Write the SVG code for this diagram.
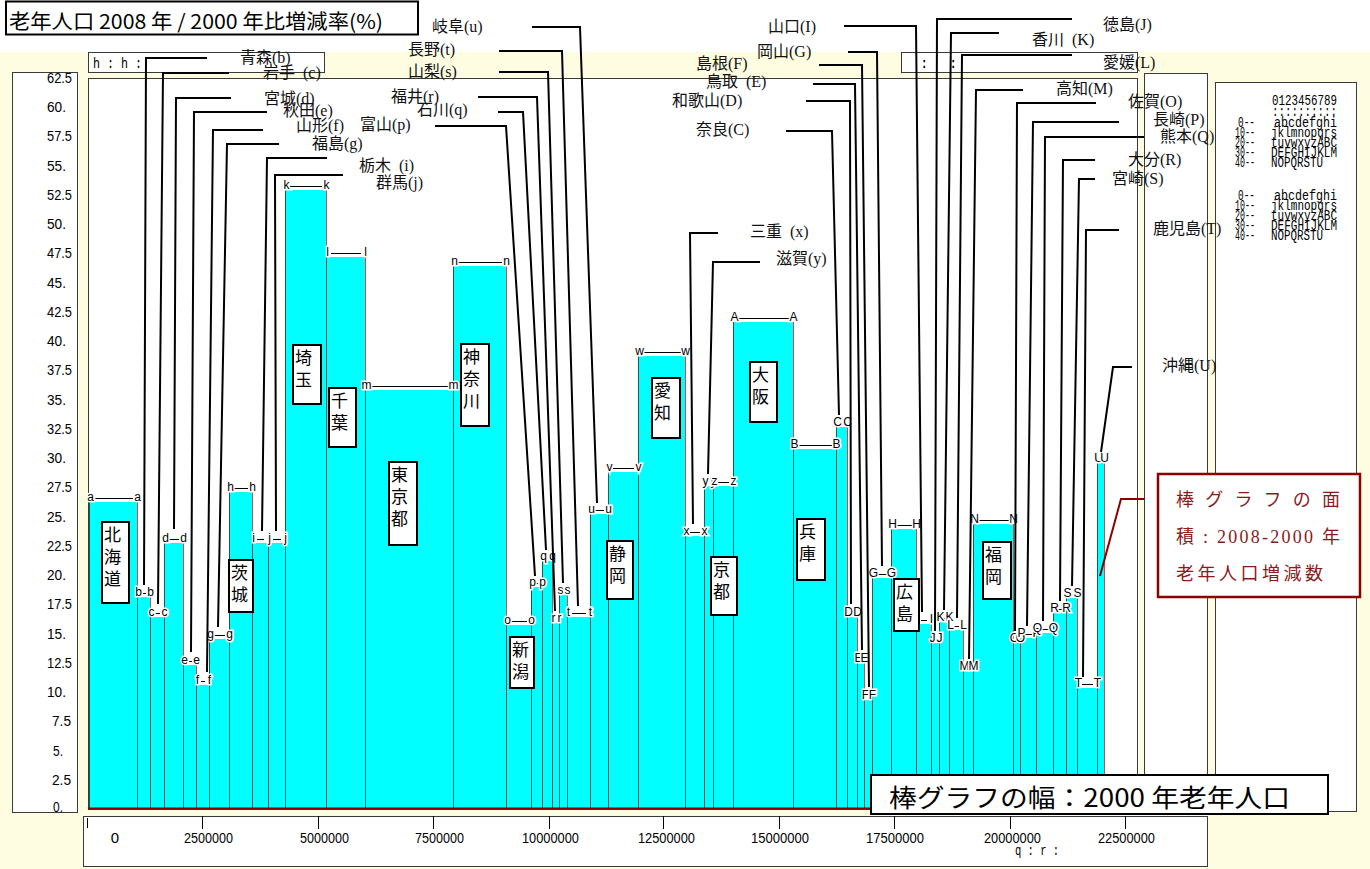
<svg xmlns="http://www.w3.org/2000/svg" width="1370" height="869" viewBox="0 0 1370 869">
<style>
.fr{fill:#fff;stroke:#3a3a3a;stroke-width:1}
.bar{fill:#00ffff}
.lb{font-family:"Liberation Sans",Arial,sans-serif;font-size:12px;fill:#000;stroke:#fff;stroke-width:3px;paint-order:stroke;text-anchor:middle}
.cn{fill:none;stroke:#000;stroke-width:1}
.ld{fill:none;stroke:#000;stroke-width:2}
.pn{font-family:"Liberation Serif","Noto Sans CJK JP",serif;font-size:16px;fill:#111}
.bx{fill:#fff;stroke:#000;stroke-width:2}
.bt{font-family:"Noto Sans CJK JP",sans-serif;font-size:17px;fill:#000}
.ax{font-family:"Liberation Sans",Arial,sans-serif;font-size:14px;fill:#000}
.mn{font-family:"Liberation Mono",monospace;font-size:14px;fill:#000}
</style>
<rect width="1370" height="869" fill="#fff"/>
<rect y="52" width="1370" height="817" fill="#fffde1"/>

<g id="title">
<rect x="6" y="1.5" width="412" height="33" fill="#fff" stroke="#000" stroke-width="2"/>
<text x="9" y="29" font-family="Noto Sans CJK JP,sans-serif" font-size="20" textLength="374" lengthAdjust="spacingAndGlyphs">老年人口 2008 年 / 2000 年比増減率(%)</text>
</g>

<g id="frames">
<rect class="fr" x="12.5" y="72.5" width="65" height="740"/>
<rect class="fr" x="88.5" y="78.5" width="1049" height="731"/>
<rect class="fr" x="88.5" y="52.5" width="236" height="20"/>
<rect class="fr" x="901.5" y="52.5" width="236" height="20"/>
<rect class="fr" x="83.5" y="816.5" width="1124" height="50"/>
<rect class="fr" x="1215.5" y="82.5" width="141" height="729"/>
<text class="mn" x="93" y="68" textLength="49" lengthAdjust="spacingAndGlyphs" xml:space="preserve">h : h :</text>
<text class="mn" x="920" y="68">:</text>
<text class="mn" x="949" y="68">:</text>
</g>

<g id="y-axis" class="ax">
<text x="47" y="83" textLength="25" lengthAdjust="spacingAndGlyphs">62.5</text>
<text x="47" y="112" textLength="19" lengthAdjust="spacingAndGlyphs">60.</text>
<text x="47" y="141" textLength="25" lengthAdjust="spacingAndGlyphs">57.5</text>
<text x="47" y="171" textLength="19" lengthAdjust="spacingAndGlyphs">55.</text>
<text x="47" y="200" textLength="25" lengthAdjust="spacingAndGlyphs">52.5</text>
<text x="47" y="229" textLength="19" lengthAdjust="spacingAndGlyphs">50.</text>
<text x="47" y="258" textLength="25" lengthAdjust="spacingAndGlyphs">47.5</text>
<text x="47" y="288" textLength="19" lengthAdjust="spacingAndGlyphs">45.</text>
<text x="47" y="317" textLength="25" lengthAdjust="spacingAndGlyphs">42.5</text>
<text x="47" y="346" textLength="19" lengthAdjust="spacingAndGlyphs">40.</text>
<text x="47" y="375" textLength="25" lengthAdjust="spacingAndGlyphs">37.5</text>
<text x="47" y="405" textLength="19" lengthAdjust="spacingAndGlyphs">35.</text>
<text x="47" y="434" textLength="25" lengthAdjust="spacingAndGlyphs">32.5</text>
<text x="47" y="463" textLength="19" lengthAdjust="spacingAndGlyphs">30.</text>
<text x="47" y="492" textLength="25" lengthAdjust="spacingAndGlyphs">27.5</text>
<text x="47" y="522" textLength="19" lengthAdjust="spacingAndGlyphs">25.</text>
<text x="47" y="551" textLength="25" lengthAdjust="spacingAndGlyphs">22.5</text>
<text x="47" y="580" textLength="19" lengthAdjust="spacingAndGlyphs">20.</text>
<text x="47" y="609" textLength="25" lengthAdjust="spacingAndGlyphs">17.5</text>
<text x="47" y="639" textLength="19" lengthAdjust="spacingAndGlyphs">15.</text>
<text x="47" y="668" textLength="25" lengthAdjust="spacingAndGlyphs">12.5</text>
<text x="47" y="697" textLength="19" lengthAdjust="spacingAndGlyphs">10.</text>
<text x="52" y="726" textLength="19" lengthAdjust="spacingAndGlyphs">7.5</text>
<text x="53" y="756" textLength="10" lengthAdjust="spacingAndGlyphs">5.</text>
<text x="52" y="785" textLength="19" lengthAdjust="spacingAndGlyphs">2.5</text>
<text x="53" y="812" textLength="10" lengthAdjust="spacingAndGlyphs">0.</text>
</g>

<g id="x-axis" class="ax">
<path d="M87.5 818V828M202.5 816V829M318.5 816V829M433.5 816V829M549.5 816V829M663.5 816V829M779.5 816V829M894.5 816V829M1010.5 816V829M1125.5 816V829" stroke="#000" stroke-width="1"/>
<text x="115" y="843" text-anchor="middle" font-size="15">0</text>
<text x="184" y="843" font-size="15" textLength="49" lengthAdjust="spacingAndGlyphs">2500000</text>
<text x="300" y="843" font-size="15" textLength="49" lengthAdjust="spacingAndGlyphs">5000000</text>
<text x="415" y="843" font-size="15" textLength="49" lengthAdjust="spacingAndGlyphs">7500000</text>
<text x="522" y="843" font-size="15" textLength="57" lengthAdjust="spacingAndGlyphs">10000000</text>
<text x="638" y="843" font-size="15" textLength="57" lengthAdjust="spacingAndGlyphs">12500000</text>
<text x="751" y="843" font-size="15" textLength="58" lengthAdjust="spacingAndGlyphs">15000000</text>
<text x="866" y="843" font-size="15" textLength="58" lengthAdjust="spacingAndGlyphs">17500000</text>
<text x="984" y="843" font-size="15" textLength="57" lengthAdjust="spacingAndGlyphs">20000000</text>
<text x="1098" y="843" font-size="15" textLength="57" lengthAdjust="spacingAndGlyphs">22500000</text>
<text class="mn" x="1015" y="855" textLength="44" lengthAdjust="spacingAndGlyphs" xml:space="preserve">q : r :</text>
</g>

<g id="code-table" class="mn">
<text x="1272" y="105" textLength="65" lengthAdjust="spacingAndGlyphs">0123456789</text>
<text x="1272" y="116" textLength="65" lengthAdjust="spacingAndGlyphs">::::::::::</text>
<text x="1255" y="127" text-anchor="end" textLength="17" lengthAdjust="spacingAndGlyphs">0--</text>
<text x="1255" y="137" text-anchor="end" textLength="20" lengthAdjust="spacingAndGlyphs">10--</text>
<text x="1255" y="147" text-anchor="end" textLength="20" lengthAdjust="spacingAndGlyphs">20--</text>
<text x="1255" y="157" text-anchor="end" textLength="20" lengthAdjust="spacingAndGlyphs">30--</text>
<text x="1255" y="167" text-anchor="end" textLength="20" lengthAdjust="spacingAndGlyphs">40--</text>
<text x="1274" y="127" textLength="63" lengthAdjust="spacingAndGlyphs">abcdefghi</text>
<text x="1271" y="137" textLength="66" lengthAdjust="spacingAndGlyphs">jklmnopqrs</text>
<text x="1271" y="147" textLength="66" lengthAdjust="spacingAndGlyphs">tuvwxyzABC</text>
<text x="1271" y="157" textLength="66" lengthAdjust="spacingAndGlyphs">DEFGHIJKLM</text>
<text x="1271" y="167" textLength="52" lengthAdjust="spacingAndGlyphs">NOPQRSTU</text>
<text x="1255" y="200" text-anchor="end" textLength="17" lengthAdjust="spacingAndGlyphs">0--</text>
<text x="1255" y="210" text-anchor="end" textLength="20" lengthAdjust="spacingAndGlyphs">10--</text>
<text x="1255" y="220" text-anchor="end" textLength="20" lengthAdjust="spacingAndGlyphs">20--</text>
<text x="1255" y="230" text-anchor="end" textLength="20" lengthAdjust="spacingAndGlyphs">30--</text>
<text x="1255" y="240" text-anchor="end" textLength="20" lengthAdjust="spacingAndGlyphs">40--</text>
<text x="1274" y="200" textLength="63" lengthAdjust="spacingAndGlyphs">abcdefghi</text>
<text x="1271" y="210" textLength="66" lengthAdjust="spacingAndGlyphs">jklmnopqrs</text>
<text x="1271" y="220" textLength="66" lengthAdjust="spacingAndGlyphs">tuvwxyzABC</text>
<text x="1271" y="230" textLength="66" lengthAdjust="spacingAndGlyphs">DEFGHIJKLM</text>
<text x="1271" y="240" textLength="52" lengthAdjust="spacingAndGlyphs">NOPQRSTU</text>
</g>

<g id="bars">
<rect id="bar-a" class="bar" x="89" y="502" width="48" height="306"/>
<rect id="bar-b" class="bar" x="137" y="597" width="13" height="211"/>
<rect id="bar-c" class="bar" x="150" y="617" width="14" height="191"/>
<rect id="bar-d" class="bar" x="164" y="543" width="19" height="265"/>
<rect id="bar-e" class="bar" x="183" y="665" width="13" height="143"/>
<rect id="bar-f" class="bar" x="196" y="685" width="13" height="123"/>
<rect id="bar-g" class="bar" x="209" y="639" width="20" height="169"/>
<rect id="bar-h" class="bar" x="229" y="492" width="23" height="316"/>
<rect id="bar-i" class="bar" x="252" y="543" width="16" height="265"/>
<rect id="bar-j" class="bar" x="268" y="543" width="17" height="265"/>
<rect id="bar-k" class="bar" x="285" y="190" width="41" height="618"/>
<rect id="bar-l" class="bar" x="326" y="257" width="39" height="551"/>
<rect id="bar-m" class="bar" x="365" y="390" width="88" height="418"/>
<rect id="bar-n" class="bar" x="453" y="266" width="53" height="542"/>
<rect id="bar-o" class="bar" x="506" y="625" width="25" height="183"/>
<rect id="bar-p" class="bar" x="531" y="587" width="11" height="221"/>
<rect id="bar-q" class="bar" x="542" y="561" width="10" height="247"/>
<rect id="bar-r" class="bar" x="552" y="623" width="7" height="185"/>
<rect id="bar-s" class="bar" x="559" y="595" width="8" height="213"/>
<rect id="bar-t" class="bar" x="567" y="617" width="23" height="191"/>
<rect id="bar-u" class="bar" x="590" y="514" width="18" height="294"/>
<rect id="bar-v" class="bar" x="608" y="472" width="30" height="336"/>
<rect id="bar-w" class="bar" x="638" y="356" width="47" height="452"/>
<rect id="bar-x" class="bar" x="685" y="536" width="19" height="272"/>
<rect id="bar-y" class="bar" x="704" y="486" width="9" height="322"/>
<rect id="bar-z" class="bar" x="713" y="486" width="20" height="322"/>
<rect id="bar-A" class="bar" x="733" y="322" width="60" height="486"/>
<rect id="bar-B" class="bar" x="793" y="449" width="43" height="359"/>
<rect id="bar-C" class="bar" x="836" y="427" width="11" height="381"/>
<rect id="bar-D" class="bar" x="847" y="617" width="10" height="191"/>
<rect id="bar-E" class="bar" x="857" y="663" width="7" height="145"/>
<rect id="bar-F" class="bar" x="864" y="700" width="8" height="108"/>
<rect id="bar-G" class="bar" x="872" y="578" width="19" height="230"/>
<rect id="bar-H" class="bar" x="891" y="529" width="25" height="279"/>
<rect id="bar-I" class="bar" x="916" y="624" width="15" height="184"/>
<rect id="bar-J" class="bar" x="931" y="643" width="8" height="165"/>
<rect id="bar-K" class="bar" x="939" y="622" width="10" height="186"/>
<rect id="bar-L" class="bar" x="949" y="630" width="14" height="178"/>
<rect id="bar-M" class="bar" x="963" y="671" width="10" height="137"/>
<rect id="bar-N" class="bar" x="973" y="524" width="40" height="284"/>
<rect id="bar-O" class="bar" x="1013" y="643" width="7" height="165"/>
<rect id="bar-P" class="bar" x="1020" y="638" width="16" height="170"/>
<rect id="bar-Q" class="bar" x="1036" y="633" width="17" height="175"/>
<rect id="bar-R" class="bar" x="1053" y="613" width="13" height="195"/>
<rect id="bar-S" class="bar" x="1066" y="598" width="11" height="210"/>
<rect id="bar-T" class="bar" x="1077" y="688" width="20" height="120"/>
<rect id="bar-U" class="bar" x="1097" y="463" width="7" height="345"/>
</g>

<g id="bar-edges" fill="none" stroke-width="1">
<path stroke="#d84848" d="M137.5 502V808M150.5 597V808M164.5 617V808M183.5 543V808M196.5 665V808M209.5 685V808M229.5 639V808M252.5 492V808M268.5 543V808M285.5 543V808M326.5 190V808M365.5 257V808M453.5 390V808M506.5 266V808M531.5 625V808M542.5 587V808M552.5 561V808M559.5 623V808M567.5 595V808M590.5 617V808M608.5 514V808M638.5 472V808M685.5 356V808M704.5 536V808M713.5 486V808M733.5 486V808M793.5 322V808M836.5 449V808M847.5 427V808M857.5 617V808M864.5 663V808M872.5 700V808M891.5 578V808M916.5 529V808M931.5 624V808M939.5 643V808M949.5 622V808M963.5 630V808M973.5 671V808M1013.5 524V808M1020.5 643V808M1036.5 638V808M1053.5 633V808M1066.5 613V808M1077.5 598V808M1097.5 688V808M1104.5 463V808"/>
<path stroke="#065f5f" d="M89.5 502V808M137.5 597V808M150.5 617V808M164.5 543V808M183.5 665V808M196.5 685V808M209.5 639V808M229.5 492V808M252.5 543V808M268.5 543V808M285.5 190V808M326.5 257V808M365.5 390V808M453.5 266V808M506.5 625V808M531.5 587V808M542.5 561V808M552.5 623V808M559.5 595V808M567.5 617V808M590.5 514V808M608.5 472V808M638.5 356V808M685.5 536V808M704.5 486V808M713.5 486V808M733.5 322V808M793.5 449V808M836.5 427V808M847.5 617V808M857.5 663V808M864.5 700V808M872.5 578V808M891.5 529V808M916.5 624V808M931.5 643V808M939.5 622V808M949.5 630V808M963.5 671V808M973.5 524V808M1013.5 643V808M1020.5 638V808M1036.5 633V808M1053.5 613V808M1066.5 598V808M1077.5 688V808M1097.5 463V808"/>
<path stroke="#8b0000" stroke-width="2" d="M88 808.5H1105"/>
</g>

<g id="bar-labels">
<path class="cn" d="M94 498.5H133M142 593.5H146M155 613.5H160M169 539.5H179M188 661.5H192M201 681.5H205M214 635.5H225M234 488.5H248M257 539.5H264M273 539.5H281M290 186.5H322M331 253.5H361M370 386.5H449M458 262.5H502M511 621.5H527M536 583.5H538M572 613.5H586M595 510.5H604M613 468.5H634M643 352.5H681M690 532.5H700M718 482.5H729M738 318.5H789M798 445.5H832M841 423.5H843M852 613.5H853M877 574.5H887M896 525.5H912M921 620.5H927M944 618.5H945M954 626.5H959M968 667.5H969M978 520.5H1009M1025 634.5H1032M1041 629.5H1049M1058 609.5H1062M1071 594.5H1073M1082 684.5H1093"/>
<text class="lb" x="90.5 137.5" y="501">aa</text>
<text class="lb" x="138.5 150.5" y="596">bb</text>
<text class="lb" x="151.5 164.5" y="616">cc</text>
<text class="lb" x="165.5 183.5" y="542">dd</text>
<text class="lb" x="184.5 196.5" y="664">ee</text>
<text class="lb" x="197.5 209.5" y="684">ff</text>
<text class="lb" x="210.5 229.5" y="638">gg</text>
<text class="lb" x="230.5 252.5" y="491">hh</text>
<text class="lb" x="253.5 268.5" y="542">ii</text>
<text class="lb" x="269.5 285.5" y="542">jj</text>
<text class="lb" x="286.5 326.5" y="189">kk</text>
<text class="lb" x="327.5 365.5" y="256">ll</text>
<text class="lb" x="366.5 453.5" y="389">mm</text>
<text class="lb" x="454.5 506.5" y="265">nn</text>
<text class="lb" x="507.5 531.5" y="624">oo</text>
<text class="lb" x="532.5 542.5" y="586">pp</text>
<text class="lb" x="543.5 552.5" y="560">qq</text>
<text class="lb" x="553.5 559.5" y="622">rr</text>
<text class="lb" x="560.5 567.5" y="594">ss</text>
<text class="lb" x="568.5 590.5" y="616">tt</text>
<text class="lb" x="591.5 608.5" y="513">uu</text>
<text class="lb" x="609.5 638.5" y="471">vv</text>
<text class="lb" x="639.5 685.5" y="355">ww</text>
<text class="lb" x="686.5 704.5" y="535">xx</text>
<text class="lb" x="705.5 713.5" y="485">yy</text>
<text class="lb" x="714.5 733.5" y="485">zz</text>
<text class="lb" x="734.5 793.5" y="321">AA</text>
<text class="lb" x="794.5 836.5" y="448">BB</text>
<text class="lb" x="837.5 847.5" y="426">CC</text>
<text class="lb" x="848.5 857.5" y="616">DD</text>
<text class="lb" x="858.5 864.5" y="662">EE</text>
<text class="lb" x="865.5 872.5" y="699">FF</text>
<text class="lb" x="873.5 891.5" y="577">GG</text>
<text class="lb" x="892.5 916.5" y="528">HH</text>
<text class="lb" x="917.5 931.5" y="623">II</text>
<text class="lb" x="932.5 939.5" y="642">JJ</text>
<text class="lb" x="940.5 949.5" y="621">KK</text>
<text class="lb" x="950.5 963.5" y="629">LL</text>
<text class="lb" x="964.5 973.5" y="670">MM</text>
<text class="lb" x="974.5 1013.5" y="523">NN</text>
<text class="lb" x="1014.5 1020.5" y="642">OO</text>
<text class="lb" x="1021.5 1036.5" y="637">PP</text>
<text class="lb" x="1037.5 1053.5" y="632">QQ</text>
<text class="lb" x="1054.5 1066.5" y="612">RR</text>
<text class="lb" x="1067.5 1077.5" y="597">SS</text>
<text class="lb" x="1078.5 1097.5" y="687">TT</text>
<text class="lb" x="1098.5 1104.5" y="462">UU</text>
</g>

<g id="connectors">
<polyline class="ld" points="207,58 146,58 144,585"/>
<polyline class="ld" points="229,73 163,73 158,604"/>
<polyline class="ld" points="231,98 176,98 174,529"/>
<polyline class="ld" points="267,112 194,112 191,652"/>
<polyline class="ld" points="263,130 213,130 207,672"/>
<polyline class="ld" points="279,144 227,144 218,627"/>
<polyline class="ld" points="327,158 267,158 262,531"/>
<polyline class="ld" points="343,175 275,175 276,531"/>
<polyline class="ld" points="435,126 506,126 535,576"/>
<polyline class="ld" points="498,112 523,112 546,550"/>
<polyline class="ld" points="478,97 537,97 555,611"/>
<polyline class="ld" points="499,72 548,72 563,583"/>
<polyline class="ld" points="499,51 562,51 578,606"/>
<polyline class="ld" points="532,27 580,27 597,503"/>
<polyline class="ld" points="718,233 690,233 693,524"/>
<polyline class="ld" points="760,262 713,262 708,474"/>
<polyline class="ld" points="786,131 832,131 839,415"/>
<polyline class="ld" points="806,101 850,101 851,604"/>
<polyline class="ld" points="813,84 855,84 862,650"/>
<polyline class="ld" points="819,65 862,65 869,687"/>
<polyline class="ld" points="848,52 877,52 882,566"/>
<polyline class="ld" points="844,26 916,26 922,612"/>
<polyline class="ld" points="1072,19 937,19 935,631"/>
<polyline class="ld" points="999,33 951,33 944,610"/>
<polyline class="ld" points="1072,55 962,55 957,618"/>
<polyline class="ld" points="1023,90 976,90 969,659"/>
<polyline class="ld" points="1096,103 1017,103 1015,631"/>
<polyline class="ld" points="1119,122 1033,122 1027,626"/>
<polyline class="ld" points="1150,137 1045,137 1043,621"/>
<polyline class="ld" points="1095,160 1063,160 1060,601"/>
<polyline class="ld" points="1095,179 1079,179 1072,586"/>
<polyline class="ld" points="1119,230 1086,230 1083,677"/>
<polyline class="ld" points="1132,367 1113,367 1101,452"/>
<polyline fill="none" stroke="#8b0000" stroke-width="2" points="1100,576 1121,499 1160,499"/>
</g>

<g id="panel-right">
<rect class="fr" x="1144.5" y="73.5" width="63" height="738"/>
</g>

<g id="leader-labels" class="pn">
<text x="240" y="63">青森(b)</text>
<text x="263" y="78" xml:space="preserve">岩手  (c)</text>
<text x="264" y="104">宮城(d)</text>
<text x="283" y="116">秋田(e)</text>
<text x="296" y="131">山形(f)</text>
<text x="312" y="149">福島(g)</text>
<text x="359" y="171" xml:space="preserve">栃木  (i)</text>
<text x="376" y="188">群馬(j)</text>
<text x="432" y="32">岐阜(u)</text>
<text x="408" y="55">長野(t)</text>
<text x="408" y="77">山梨(s)</text>
<text x="391" y="102">福井(r)</text>
<text x="417" y="115">石川(q)</text>
<text x="360" y="130">富山(p)</text>
<text x="750" y="237" xml:space="preserve">三重  (x)</text>
<text x="776" y="264">滋賀(y)</text>
<text x="768" y="32">山口(I)</text>
<text x="757" y="57">岡山(G)</text>
<text x="696" y="69">島根(F)</text>
<text x="706" y="87" xml:space="preserve">鳥取  (E)</text>
<text x="672" y="106">和歌山(D)</text>
<text x="696" y="135">奈良(C)</text>
<text x="1103" y="30">徳島(J)</text>
<text x="1032" y="45" xml:space="preserve">香川  (K)</text>
<text x="1103" y="68">愛媛(L)</text>
<text x="1056" y="94">高知(M)</text>
<text x="1128" y="107">佐賀(O)</text>
<text x="1153" y="125">長崎(P)</text>
<text x="1160" y="142">熊本(Q)</text>
<text x="1128" y="165">大分(R)</text>
<text x="1112" y="184">宮崎(S)</text>
<text x="1153" y="234">鹿児島(T)</text>
<text x="1162" y="371">沖縄(U)</text>
</g>

<g id="n-hokkaido"><rect class="bx" x="102" y="522" width="27" height="81"/><text class="bt"><tspan x="104" y="541">北</tspan><tspan x="104" y="563">海</tspan><tspan x="104" y="585">道</tspan></text></g>
<g id="n-ibaraki"><rect class="bx" x="229" y="560" width="24" height="52"/><text class="bt"><tspan x="231" y="579">茨</tspan><tspan x="231" y="601">城</tspan></text></g>
<g id="n-saitama"><rect class="bx" x="293" y="345" width="28" height="59"/><text class="bt"><tspan x="295" y="364">埼</tspan><tspan x="295" y="386">玉</tspan></text></g>
<g id="n-chiba"><rect class="bx" x="329" y="388" width="27" height="59"/><text class="bt"><tspan x="331" y="407">千</tspan><tspan x="331" y="429">葉</tspan></text></g>
<g id="n-tokyo"><rect class="bx" x="389" y="462" width="28" height="83"/><text class="bt"><tspan x="391" y="481">東</tspan><tspan x="391" y="503">京</tspan><tspan x="391" y="525">都</tspan></text></g>
<g id="n-kanagawa"><rect class="bx" x="461" y="344" width="28" height="82"/><text class="bt"><tspan x="463" y="363">神</tspan><tspan x="463" y="385">奈</tspan><tspan x="463" y="407">川</tspan></text></g>
<g id="n-niigata"><rect class="bx" x="510" y="637" width="24" height="51"/><text class="bt"><tspan x="512" y="656">新</tspan><tspan x="512" y="678">潟</tspan></text></g>
<g id="n-shizuoka"><rect class="bx" x="607" y="541" width="26" height="58"/><text class="bt"><tspan x="609" y="560">静</tspan><tspan x="609" y="582">岡</tspan></text></g>
<g id="n-aichi"><rect class="bx" x="652" y="378" width="28" height="60"/><text class="bt"><tspan x="654" y="397">愛</tspan><tspan x="654" y="419">知</tspan></text></g>
<g id="n-kyoto"><rect class="bx" x="711" y="557" width="26" height="58"/><text class="bt"><tspan x="713" y="576">京</tspan><tspan x="713" y="598">都</tspan></text></g>
<g id="n-osaka"><rect class="bx" x="750" y="362" width="27" height="60"/><text class="bt"><tspan x="752" y="381">大</tspan><tspan x="752" y="403">阪</tspan></text></g>
<g id="n-hyogo"><rect class="bx" x="797" y="519" width="28" height="61"/><text class="bt"><tspan x="799" y="538">兵</tspan><tspan x="799" y="560">庫</tspan></text></g>
<g id="n-hiroshima"><rect class="bx" x="894" y="579" width="25" height="52"/><text class="bt"><tspan x="896" y="598">広</tspan><tspan x="896" y="620">島</tspan></text></g>
<g id="n-fukuoka"><rect class="bx" x="983" y="542" width="28" height="57"/><text class="bt"><tspan x="985" y="561">福</tspan><tspan x="985" y="583">岡</tspan></text></g>

<g id="note-area">
<rect x="1158" y="474" width="202" height="123" fill="#fff" stroke="#8b0000" stroke-width="2.5"/>
<g font-family="Liberation Serif,Noto Sans CJK JP,serif" font-size="18" fill="#8b1a1a">
<text x="1176" y="506" textLength="164" lengthAdjust="spacing">棒グラフの面</text>
<text x="1176" y="543" textLength="164" lengthAdjust="spacing">積 : 2008-2000 年</text>
<text x="1176" y="580" textLength="147" lengthAdjust="spacing">老年人口増減数</text>
</g>
</g>

<g id="note-width">
<rect x="871" y="775" width="457" height="39" fill="#fff" stroke="#000" stroke-width="2"/>
<text x="889" y="807" font-family="Noto Sans CJK JP,sans-serif" font-size="25" textLength="401" lengthAdjust="spacingAndGlyphs">棒グラフの幅：2000 年老年人口</text>
</g>
</svg>
